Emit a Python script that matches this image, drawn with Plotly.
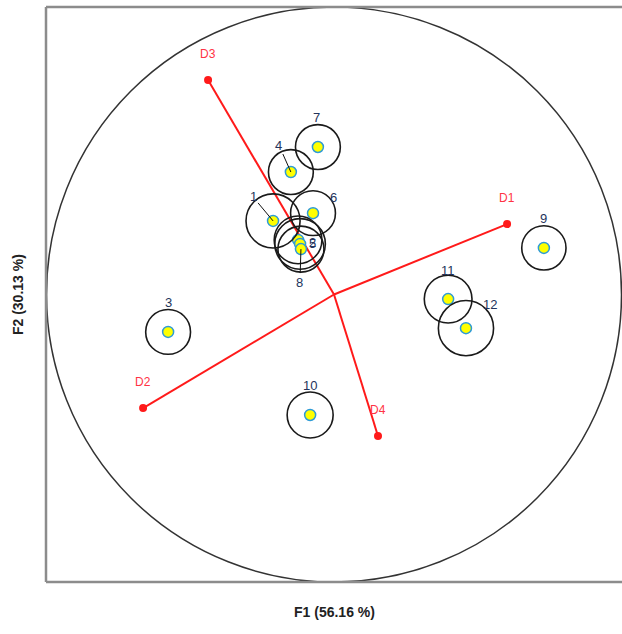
import plotly.graph_objects as go

# Observations (factor scores on F1/F2) and their confidence-circle radii
obs_labels = ["1", "2", "3", "4", "5", "6", "7", "8", "9", "10", "11", "12"]
obs_f1 = [-0.212, -0.125, -0.577, -0.150, -0.118, -0.073, -0.056, -0.115, 0.730, -0.083, 0.397, 0.459]
obs_f2 = [0.256, 0.190, -0.130, 0.426, 0.176, 0.283, 0.513, 0.158, 0.162, -0.419, -0.016, -0.117]
obs_radius = [0.094, 0.083, 0.078, 0.078, 0.088, 0.078, 0.078, 0.080, 0.077, 0.080, 0.083, 0.096]

# Variables (loadings)
var_labels = ["D1", "D2", "D3", "D4"]
var_f1 = [0.602, -0.664, -0.438, 0.153]
var_f2 = [0.245, -0.395, 0.746, -0.492]

x_title = "F1 (56.16 %)"
y_title = "F2 (30.13 %)"

# label placement offsets in pixels (dx, dy; dy positive = down) and leader flag
label_offsets = {
    "1": (-20, -24, True), "2": (14, 3, False), "3": (0, -29, False),
    "4": (-12, -27, True), "5": (12, 0, False), "6": (20, -16, False),
    "7": (-1, -30, False), "8": (-1, 33, True), "9": (0, -29, False),
    "10": (0, -29, False), "11": (0, -29, False), "12": (24, -24, False),
}

fig = go.Figure()

shapes = []
# unit correlation circle
shapes.append(dict(type="circle", xref="x", yref="y", x0=-1, y0=-1, x1=1, y1=1,
                   line=dict(color="#333333", width=1.5), layer="below"))
# confidence circles
for x, y, r in zip(obs_f1, obs_f2, obs_radius):
    shapes.append(dict(type="circle", xref="x", yref="y", x0=x - r, y0=y - r, x1=x + r, y1=y + r,
                       line=dict(color="#1a1a1a", width=1.6), layer="above"))
# frame (left, top, bottom)
frame_color = "#8c8c8c"
shapes.append(dict(type="line", xref="paper", yref="paper", x0=0, y0=0, x1=0, y1=1, line=dict(color=frame_color, width=2.5)))
shapes.append(dict(type="line", xref="paper", yref="paper", x0=0, y0=1, x1=1, y1=1, line=dict(color=frame_color, width=2.5)))
shapes.append(dict(type="line", xref="paper", yref="paper", x0=0, y0=0, x1=1, y1=0, line=dict(color=frame_color, width=2.5)))

# variable vectors from origin
for vx, vy in zip(var_f1, var_f2):
    fig.add_trace(go.Scatter(x=[0, vx], y=[0, vy], mode="lines",
                             line=dict(color="#ff1a1a", width=2), hoverinfo="skip", showlegend=False))
fig.add_trace(go.Scatter(x=var_f1, y=var_f2, mode="markers",
                         marker=dict(color="#ff1a1a", size=8), showlegend=False))

# observations
fig.add_trace(go.Scatter(x=obs_f1, y=obs_f2, mode="markers",
                         marker=dict(color="#ffff00", size=11, line=dict(color="#2e9bd6", width=1.5)),
                         showlegend=False))

annotations = []
for lab, x, y in zip(var_labels, var_f1, var_f2):
    annotations.append(dict(x=x, y=y, xref="x", yref="y", text=lab, showarrow=False, yshift=26,
                            font=dict(color="#ff3344", size=12, family="Liberation Sans")))
for lab, x, y in zip(obs_labels, obs_f1, obs_f2):
    dx, dy, leader = label_offsets[lab]
    annotations.append(dict(x=x, y=y, xref="x", yref="y", text=lab,
                            showarrow=leader, ax=dx, ay=dy, xshift=0 if leader else dx,
                            yshift=0 if leader else -dy,
                            arrowhead=0, arrowwidth=1, arrowcolor="#111111", standoff=0,
                            font=dict(color="#24345c", size=13, family="Liberation Sans")))

annotations.append(dict(x=0.5, y=-0.035, xref="paper", yref="paper", text="<b>" + x_title + "</b>",
                        showarrow=False, yanchor="top",
                        font=dict(size=14, color="#222222", family="Liberation Sans")))
annotations.append(dict(x=-0.032, y=0.5, xref="paper", yref="paper", text="<b>" + y_title + "</b>",
                        showarrow=False, textangle=-90, xanchor="right",
                        font=dict(size=14, color="#222222", family="Liberation Sans")))

fig.update_layout(
    width=622, height=634, autosize=False,
    margin=dict(l=46, r=0, t=7, b=52),
    paper_bgcolor="white", plot_bgcolor="white",
    shapes=shapes, annotations=annotations,
    xaxis=dict(range=[-1.0017, 1.0017], showgrid=False, zeroline=False, showticklabels=False,
               ticks="", showline=False),
    yaxis=dict(range=[-1, 1], showgrid=False, zeroline=False, showticklabels=False,
               ticks="", showline=False),
    font=dict(family="Liberation Sans"),
)

fig.write_html("out.html", config={"responsive": False, "displayModeBar": False},
               post_script="document.body.style.margin='0';document.body.style.overflow='hidden';")
